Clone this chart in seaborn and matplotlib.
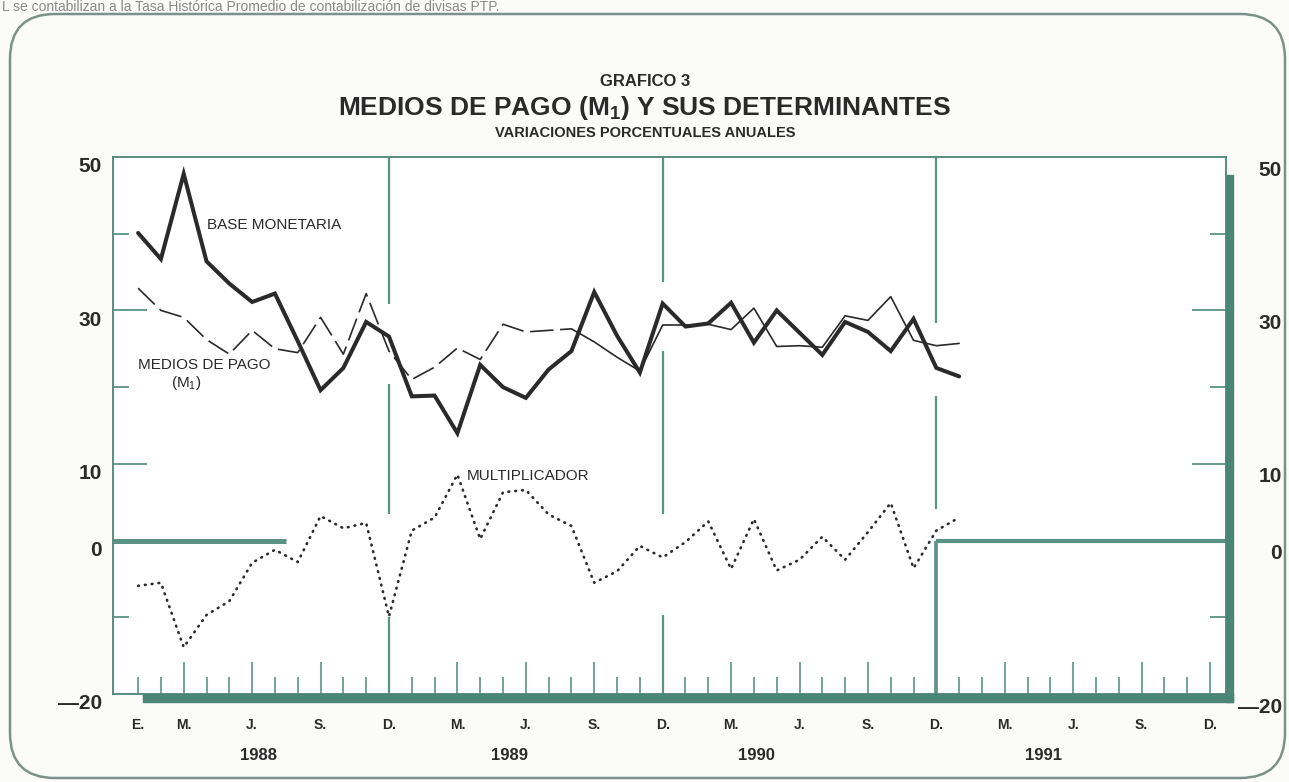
import numpy as np
import pandas as pd
import seaborn as sns
import matplotlib.pyplot as plt
from matplotlib.patches import Rectangle, FancyBboxPatch
from matplotlib.transforms import blended_transform_factory

# meses: 0 = enero 1988 ... 36 = enero 1991
meses = list(range(37))

base_monetaria = [40.1, 36.7, 47.8, 36.4, 33.5, 31.1, 32.2, 26.0, 19.6, 22.5,
                  28.5, 26.6, 18.8, 18.9, 14.0, 22.9, 20.0, 18.6, 22.3, 24.7,
                  32.4, 26.7, 21.9, 30.9, 27.9, 28.3, 31.0, 25.8, 30.0, 27.1,
                  24.2, 28.5, 27.2, 24.7, 28.9, 22.5, 21.4]

medios_pago = [32.9, 30.0, 29.1, 26.2, 24.3, 27.4, 25.0, 24.5, 29.1, 24.3,
               32.2, 24.7, 21.0, 22.6, 25.1, 23.6, 28.2, 27.2, 27.4, 27.6,
               25.9, 23.9, 22.1, 28.1, 28.1, 28.2, 27.5, 30.3, 25.3, 25.4,
               25.2, 29.3, 28.7, 31.8, 26.1, 25.4, 25.7]

multiplicador = [-5.9, -5.5, -13.9, -9.7, -7.9, -2.9, -1.2, -2.8, 3.2, 1.6,
                 2.3, -9.9, 1.3, 3.0, 8.6, 0.2, 6.3, 6.6, 3.4, 1.9,
                 -5.5, -4.0, -0.7, -2.2, -0.2, 2.5, -3.7, 2.8, -3.9, -2.5,
                 0.5, -2.5, 1.1, 4.9, -3.6, 1.3, 3.0]

etiquetas_mes = ["E.", "M.", "J.", "S.", "D.",
                 "M.", "J.", "S.", "D.",
                 "M.", "J.", "S.", "D.",
                 "M.", "J.", "S.", "D."]
pos_mes = [0, 2, 5, 8, 11, 14, 17, 20, 23, 26, 29, 32, 35, 38, 41, 44, 47]
anios = ["1988", "1989", "1990", "1991"]
pos_anio = [5.3, 16.3, 27.1, 39.7]
valores_y = [50, 30, 10, 0, -20]
etiquetas_y = ["50", "30", "10", "0", "\u201420"]

TEAL = "#5a9284"
TEAL_OSCURO = "#4b8576"
TINTA = "#2a2a2a"

sns.set_style("white")
plt.rcParams['font.family'] = ['Liberation Sans', 'DejaVu Sans']
plt.rcParams['mathtext.fontset'] = 'custom'
plt.rcParams['mathtext.rm'] = 'Liberation Sans'
plt.rcParams['mathtext.bf'] = 'Liberation Sans:bold'
plt.rcParams['mathtext.default'] = 'regular'

W, H = 1289, 782
fig = plt.figure(figsize=(W / 100, H / 100), dpi=100)
fig.patch.set_facecolor("#fbfbfa")
ax = fig.add_axes([113 / W, 1 - 694 / H, 1113 / W, 537 / H])
ax.set_facecolor("white")
ax.set_xlim(-1.1, 47.7)
ax.set_ylim(-20, 50)

df = pd.DataFrame({"mes": meses, "base": base_monetaria,
                   "medios": medios_pago, "mult": multiplicador})

# lineas de referencia (divisiones de año, cero)
cortes = {11: [(50, 30.9), (20.4, 3.4), (-9.9, -20)],
          23: [(50, 33.7), (24.7, 3.4), (-9.7, -20)],
          35: [(50, 28.4), (18.8, 4.1)]}
for mes, tramos in cortes.items():
    for y0, y1 in tramos:
        ax.vlines(mes, y1, y0, color=TEAL, lw=1.6, zorder=1)
ax.vlines(35, -20, 0, color=TEAL, lw=2.6, zorder=1)
ax.hlines(0, -1.1, 6.5, color=TEAL, lw=3.6, zorder=1)
ax.hlines(0, 35, 47.7, color=TEAL, lw=3.0, zorder=1)

# marcas mensuales en la base
for m in range(48):
    if m in cortes:
        continue
    largo = 4.2 if m % 3 == 2 else 2.2
    ax.vlines(m, -20, -20 + largo, color=TEAL, lw=1.2, zorder=1)

# marcas en los ejes verticales
for v in [40, 30, 20, 10, -10]:
    largo = 1.5 if v in (30, 10) else 0.7
    ax.hlines(v, -1.1, -1.1 + largo, color=TEAL, lw=1.3, zorder=1)
    ax.hlines(v, 47.7 - largo, 47.7, color=TEAL, lw=1.3, zorder=1)

# series
sns.lineplot(data=df, x="mes", y="base", color=TINTA, lw=2.9, ax=ax,
             solid_joinstyle="miter", zorder=4)
sns.lineplot(data=df[df["mes"] <= 19], x="mes", y="medios", color=TINTA,
             lw=1.2, linestyle=(0, (14, 4)), ax=ax, zorder=3)
sns.lineplot(data=df[df["mes"] >= 19], x="mes", y="medios", color=TINTA,
             lw=1.2, ax=ax, zorder=3)
sns.lineplot(data=df, x="mes", y="mult", color=TINTA, lw=1.9,
             linestyle=(0, (0.3, 2.3)), dash_capstyle="round", ax=ax, zorder=3)

ax.set_xlabel("")
ax.set_ylabel("")
ax.set_xticks([])
ax.set_yticks([])
for lado in ["top", "left", "right", "bottom"]:
    ax.spines[lado].set_color(TEAL_OSCURO)
    ax.spines[lado].set_linewidth(1.3)

# sombra del marco (derecha y abajo)
ax.add_patch(Rectangle((1.0, -0.015), 0.0065, 0.982, transform=ax.transAxes,
                       color=TEAL_OSCURO, clip_on=False, zorder=5))
ax.add_patch(Rectangle((0.027, -0.015), 0.9795, 0.015, transform=ax.transAxes,
                       color=TEAL_OSCURO, clip_on=False, zorder=5))

# rotulos de las series
ax.text(3.0, 41.1, "BASE MONETARIA", fontsize=11, color=TINTA, va="center")
ax.text(2.9, 22.9, "MEDIOS DE PAGO", fontsize=11, color=TINTA, va="center", ha="center")
ax.text(2.1, 20.5, r"(M$_1$)", fontsize=11, color=TINTA, va="center", ha="center")
ax.text(14.4, 8.4, "MULTIPLICADOR", fontsize=11, color=TINTA, va="center")

# eje vertical: izquierda y derecha
tr_y = blended_transform_factory(fig.transFigure, ax.transData)
for v, lab in zip(valores_y, etiquetas_y):
    ax.text(102 / W, v - 1.3, lab, transform=tr_y, ha="right", va="center",
            fontsize=15, fontweight="bold", color=TINTA)
    ax.text(1282 / W, v - 1.7, lab, transform=tr_y, ha="right", va="center",
            fontsize=15, fontweight="bold", color=TINTA)

# eje horizontal: meses y años
tr_x = blended_transform_factory(ax.transData, fig.transFigure)
for p, lab in zip(pos_mes, etiquetas_mes):
    ax.text(p, 1 - 725 / H, lab, transform=tr_x, ha="center", va="center",
            fontsize=10, fontweight="bold", color=TINTA)
for p, lab in zip(pos_anio, anios):
    ax.text(p, 1 - 755 / H, lab, transform=tr_x, ha="center", va="center",
            fontsize=12, fontweight="bold", color=TINTA)

# titulos
fig.text(645 / W, 1 - 82 / H, "GRAFICO 3", ha="center", va="center",
         fontsize=12, fontweight="bold", color=TINTA)
fig.text(645 / W, 1 - 108 / H, r"MEDIOS DE PAGO (M$_\mathbf{1}$) Y SUS DETERMINANTES",
         ha="center", va="center", fontsize=19, fontweight="bold", color=TINTA)
fig.text(645 / W, 1 - 133 / H, "VARIACIONES PORCENTUALES ANUALES", ha="center",
         va="center", fontsize=10.5, fontweight="bold", color=TINTA)

# nota de la página anterior y marco redondeado
fig.text(2 / W, 1 - 7 / H, "L se contabilizan a la Tasa Histórica Promedio de contabilización de divisas PTP.",
         ha="left", va="center", fontsize=10, color="#8a8a8a")
fig.patches.append(FancyBboxPatch((10, 4), 1275, 764, boxstyle="round,pad=0,rounding_size=45",
                                  transform=None, fill=False, edgecolor="#7d918c", lw=1.8))

fig.savefig("out.png", dpi=100, facecolor=fig.get_facecolor())
